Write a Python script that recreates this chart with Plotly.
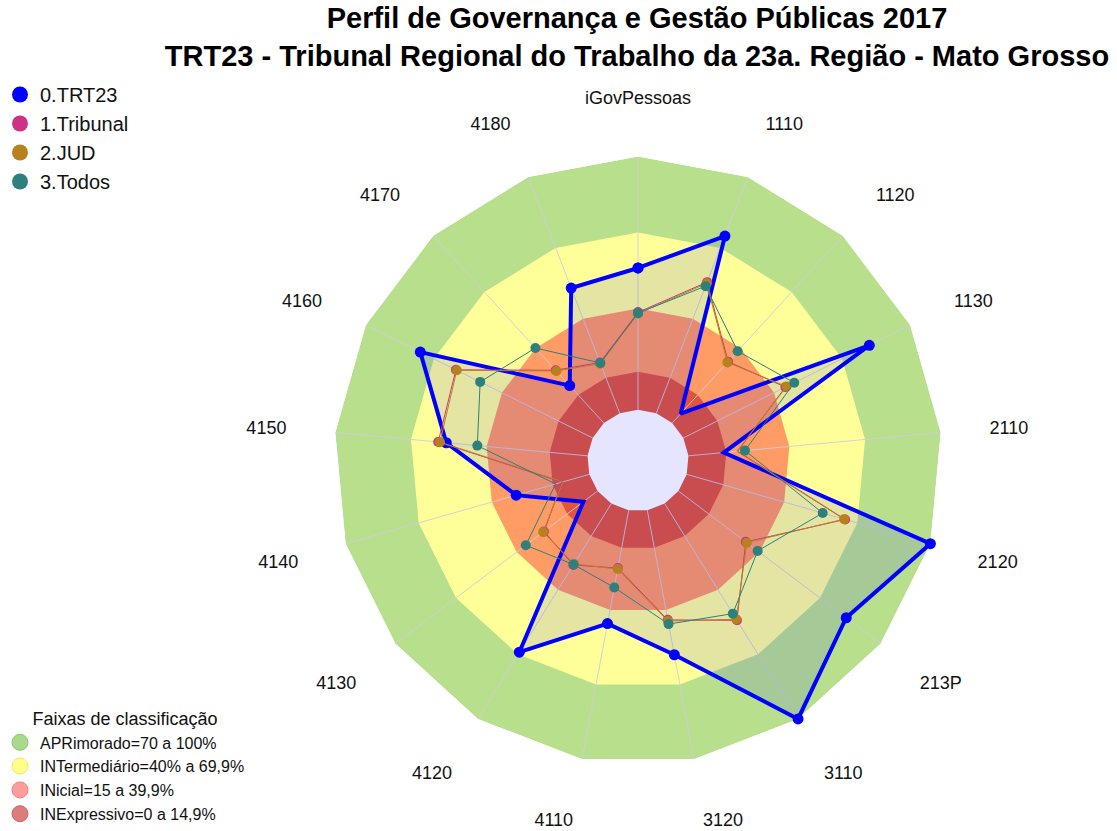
import plotly.graph_objects as go

# ---------------- data ----------------
categories = ["iGovPessoas", "1110", "1120", "1130", "2110", "2120", "213P", "3110",
              "3120", "4110", "4120", "4130", "4140", "4150", "4160", "4170", "4180"]

trt23 = [56, 75, 5, 82, 14, 100, 83, 100, 58, 45.5, 69, 7, 30, 56, 76, 20, 53]
tribunal = [38.5, 55.5, 32.8, 45.0, 19.5, 65.0, 33.3, 54.2, 44.0, 23.2, 28.5, 26.5, 11.2, 59.2, 60.3, 28.2, 21.5]
jud = [38.0, 55.0, 32.4, 45.5, 19.2, 64.6, 33.8, 53.7, 44.5, 23.6, 28.0, 26.9, 10.8, 58.5, 59.9, 27.8, 21.0]
todos = [38.2, 53.8, 38.4, 48.9, 22.4, 55.8, 39.2, 51.1, 45.7, 31.0, 28.3, 35.5, 13.8, 43.7, 49.6, 40.1, 21.3]

series_names = ["0.TRT23", "1.Tribunal", "2.JUD", "3.Todos"]
series_values = [trt23, tribunal, jud, todos]

band_names = ["APRimorado=70 a 100%", "INTermediário=40% a 69,9%",
              "INicial=15 a 39,9%", "INExpressivo=0 a 14,9%"]
band_low = [70, 40, 15, 0]
band_high = [100, 70, 40, 15]

# ---------------- styles ----------------
series_colors = ["#0000FF", "#CC3388", "#B5821E", "#2E807C"]
band_fill = ["#B8E08C", "#FFFF99", "#FF9B64", "#E0553C"]
band_legend = ["#A9D98A", "#FFFF8C", "#FF9C9C", "#DC7C7C"]
band_legend_line = ["#8CC46C", "#E8E870", "#F08080", "#C86464"]
FONT = "Liberation Sans, Arial, sans-serif"

fig = go.Figure()
ring = categories + [categories[0]]

# classification bands: stacked filled polygons, largest first
for name, hi, col in zip(band_names, band_high, band_fill):
    fig.add_trace(go.Scatterpolar(
        theta=ring, r=[hi] * len(ring), mode="lines",
        line=dict(width=0, color=col), fill="toself", fillcolor=col,
        showlegend=False, hoverinfo="skip", name=name,
    ))
# floor of the lowest band (inner empty area)
fig.add_trace(go.Scatterpolar(
    theta=ring, r=[min(band_low)] * len(ring), mode="lines",
    line=dict(width=0, color="white"), fill="toself", fillcolor="white",
    showlegend=False, hoverinfo="skip",
))

# spokes drawn above the bands (from band floor to band top)
g_theta, g_r = [], []
for c in categories:
    g_theta += [c, c, None]
    g_r += [min(band_low), max(band_high), None]
fig.add_trace(go.Scatterpolar(
    theta=g_theta, r=g_r, mode="lines",
    line=dict(color="rgba(205,205,222,0.9)", width=1),
    showlegend=False, hoverinfo="skip",
))

# data series
for i, (name, vals, col) in enumerate(zip(series_names, series_values, series_colors)):
    rr = vals + [vals[0]]
    if i == 0:
        fig.add_trace(go.Scatterpolar(
            theta=ring, r=rr, mode="lines+markers", name=name,
            line=dict(color=col, width=4), marker=dict(color=col, size=11),
            fill="toself", fillcolor="rgba(0,0,255,0.1)",
            showlegend=False,
        ))
    else:
        fig.add_trace(go.Scatterpolar(
            theta=ring, r=rr, mode="lines+markers", name=name,
            line=dict(color=col, width=1), marker=dict(color=col, size=10),
            showlegend=False,
        ))

# legend entries (circles)
for name, col in zip(series_names, series_colors):
    fig.add_trace(go.Scatterpolar(
        theta=[None], r=[None], mode="markers", name=name,
        marker=dict(color=col, size=22), legend="legend",
    ))
for name, col, lc in zip(band_names, band_legend, band_legend_line):
    fig.add_trace(go.Scatterpolar(
        theta=[None], r=[None], mode="markers", name=name,
        marker=dict(color=col, size=20, line=dict(color=lc, width=1)),
        legend="legend2",
    ))

W, H = 1117, 831
cx, cy, R = 638, 460.5, 304
fig.update_layout(
    width=W, height=H,
    margin=dict(l=0, r=0, t=0, b=0),
    paper_bgcolor="white",
    font=dict(family=FONT, color="#111111"),
    title=dict(
        text="<b>Perfil de Governança e Gestão Públicas 2017<br>"
             "TRT23 - Tribunal Regional do Trabalho da 23a. Região - Mato Grosso</b>",
        x=637 / W, xanchor="center", y=1 - 28 / H, yanchor="top", yref="container",
        font=dict(size=29, family=FONT, color="black"),
    ),
    polar=dict(
        domain=dict(x=[(cx - R) / W, (cx + R) / W],
                    y=[1 - (cy + R) / H, 1 - (cy - R) / H]),
        bgcolor="white",
        gridshape="linear",
        radialaxis=dict(range=[-20, 100], visible=False),
        angularaxis=dict(
            type="category", categoryarray=categories, direction="clockwise",
            rotation=90, showgrid=False, showline=False,
            ticks="outside", ticklen=45, tickcolor="rgba(0,0,0,0)",
            tickfont=dict(size=18, family=FONT, color="#111111"),
        ),
    ),
    legend=dict(
        x=0, xanchor="left", y=1 - 75 / H, yanchor="top",
        font=dict(size=20, family=FONT, color="#111111"),
        bgcolor="rgba(0,0,0,0)", itemsizing="trace", tracegroupgap=0,
    ),
    legend2=dict(
        x=0, xanchor="left", y=0.0, yanchor="bottom",
        title=dict(text="Faixas de classificação", side="top center",
                   font=dict(size=18, family=FONT, color="#111111")),
        font=dict(size=16, family=FONT, color="#111111"),
        bgcolor="rgba(0,0,0,0)", itemsizing="trace", tracegroupgap=0,
    ),
)

fig.write_html("out.html", config={"displayModeBar": False},
               post_script="document.body.style.margin='0px';")
